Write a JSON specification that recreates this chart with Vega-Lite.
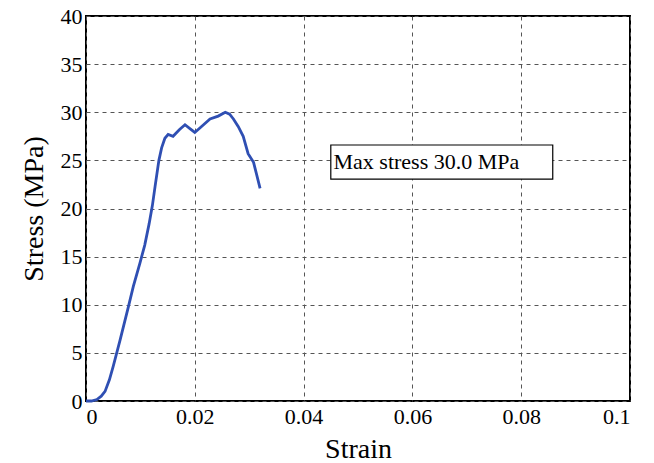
{
  "$schema": "https://vega.github.io/schema/vega-lite/v6.json",
  "width": 544,
  "height": 385,
  "autosize": {"type": "none"},
  "padding": {"left": 86, "top": 16, "right": 24, "bottom": 62},
  "background": "white",
  "config": {
    "view": {"stroke": "black", "strokeWidth": 2},
    "font": "Liberation Serif",
    "axis": {"labelFont": "Liberation Serif", "titleFont": "Liberation Serif"}
  },
  "datasets": {
    "curve": [
      {"strain": 0.0, "stress": 0.0},
      {"strain": 0.001, "stress": 0.0},
      {"strain": 0.002, "stress": 0.15},
      {"strain": 0.0028, "stress": 0.5},
      {"strain": 0.0035, "stress": 1.0},
      {"strain": 0.0043, "stress": 2.2},
      {"strain": 0.005, "stress": 3.6},
      {"strain": 0.00625, "stress": 6.3},
      {"strain": 0.0078, "stress": 9.8},
      {"strain": 0.0087, "stress": 11.9},
      {"strain": 0.0099, "stress": 14.3},
      {"strain": 0.0108, "stress": 16.2},
      {"strain": 0.0116, "stress": 18.4},
      {"strain": 0.0122, "stress": 20.3},
      {"strain": 0.0127, "stress": 22.3},
      {"strain": 0.0134, "stress": 25.0},
      {"strain": 0.0139, "stress": 26.3},
      {"strain": 0.0145, "stress": 27.3},
      {"strain": 0.0151, "stress": 27.7},
      {"strain": 0.016, "stress": 27.5},
      {"strain": 0.0172, "stress": 28.2},
      {"strain": 0.0182, "stress": 28.7},
      {"strain": 0.0191, "stress": 28.3},
      {"strain": 0.02, "stress": 27.9},
      {"strain": 0.0214, "stress": 28.6},
      {"strain": 0.0228, "stress": 29.3},
      {"strain": 0.0243, "stress": 29.6},
      {"strain": 0.0256, "stress": 30.0},
      {"strain": 0.0264, "stress": 29.8},
      {"strain": 0.0271, "stress": 29.3},
      {"strain": 0.028, "stress": 28.5},
      {"strain": 0.0289, "stress": 27.5},
      {"strain": 0.0298, "stress": 25.7},
      {"strain": 0.0308, "stress": 24.8},
      {"strain": 0.032, "stress": 22.1}
    ],
    "note": [
      {"x1": 0.045, "x2": 0.0858, "y1": 23.05, "y2": 26.6, "tx": 0.0455, "ty": 24.8, "label": "Max stress 30.0 MPa"}
    ]
  },
  "layer": [
    {
      "data": {"name": "curve"},
      "mark": {"type": "line", "color": "#2f4fb3", "strokeWidth": 2.8},
      "encoding": {
        "x": {
          "field": "strain", "type": "quantitative",
          "scale": {"domain": [0, 0.1], "nice": false},
          "axis": {
            "title": "Strain", "values": [0, 0.02, 0.04, 0.06, 0.08, 0.1],
            "labelExpr": "datum.value == 0 ? '0' : datum.value == 0.1 ? '0.1' : format(datum.value, '.2f')",
            "grid": true, "gridColor": "#555", "gridDash": [4, 4], "gridWidth": 1, "gridOpacity": 1,
            "ticks": false, "domain": false,
            "labelFontSize": 22, "labelColor": "black", "labelPadding": 5,
            "titleFontSize": 28, "titleFontWeight": "normal", "titleColor": "black", "titlePadding": 8
          }
        },
        "y": {
          "field": "stress", "type": "quantitative",
          "scale": {"domain": [0, 40], "nice": false},
          "axis": {
            "title": "Stress (MPa)", "values": [0, 5, 10, 15, 20, 25, 30, 35, 40],
            "grid": true, "gridColor": "#555", "gridDash": [4, 4], "gridWidth": 1, "gridOpacity": 1,
            "ticks": false, "domain": false,
            "labelFontSize": 22, "labelColor": "black", "labelPadding": 4,
            "titleFontSize": 28, "titleFontWeight": "normal", "titleColor": "black", "titlePadding": 12
          }
        }
      }
    },
    {
      "data": {"name": "note"},
      "mark": {"type": "rect", "fill": "white", "stroke": "black", "strokeWidth": 1.2},
      "encoding": {
        "x": {"field": "x1", "type": "quantitative"},
        "x2": {"field": "x2"},
        "y": {"field": "y1", "type": "quantitative"},
        "y2": {"field": "y2"}
      }
    },
    {
      "data": {"name": "note"},
      "mark": {"type": "text", "align": "left", "baseline": "middle", "fontSize": 22, "color": "black", "font": "Liberation Serif"},
      "encoding": {
        "x": {"field": "tx", "type": "quantitative"},
        "y": {"field": "ty", "type": "quantitative"},
        "text": {"field": "label"}
      }
    }
  ]
}
